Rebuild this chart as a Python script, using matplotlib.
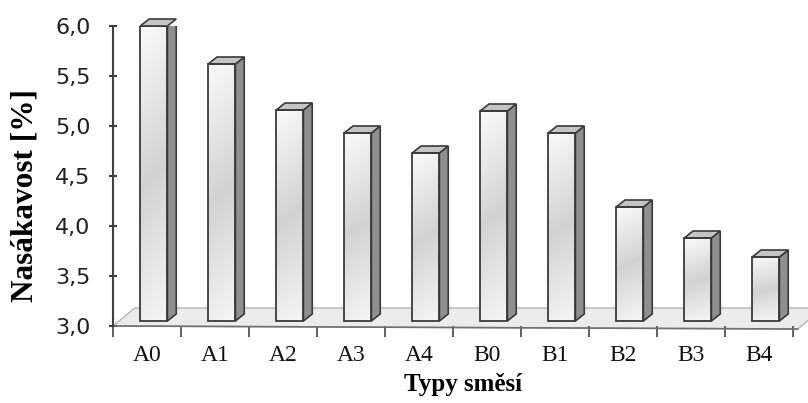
import numpy as np
import matplotlib
matplotlib.use("Agg")
import matplotlib.pyplot as plt
from matplotlib.patches import Polygon
from matplotlib.colors import LinearSegmentedColormap

categories = ["A0", "A1", "A2", "A3", "A4", "B0", "B1", "B2", "B3", "B4"]
values = [6.0, 5.62, 5.16, 4.93, 4.73, 5.15, 4.93, 4.19, 3.88, 3.69]
yticks = [3.0, 3.5, 4.0, 4.5, 5.0, 5.5, 6.0]
ytick_labels = ["3,0", "3,5", "4,0", "4,5", "5,0", "5,5", "6,0"]

W, H = 808, 403
fig = plt.figure(figsize=(W / 100, H / 100), dpi=100)
ax = fig.add_axes([113 / W, (H - 326) / H, 680 / W, 300 / H])
ax.set_xlim(-0.5, len(categories) - 0.5)
ax.set_ylim(3.0, 6.0)

edge = "#3a3a3a"
# 3D offsets (data units)
dx, dy = 0.13, 0.07
floor_dx, floor_dy = 0.32, 0.18
bar_w = 0.40
bar_shift = 0.10
base = 3.05

# floor
n = len(categories)
fl = Polygon([[-0.5, 3.0], [-0.5 + floor_dx, 3.0 + floor_dy],
              [n - 0.5 + floor_dx + 0.12, 3.0 + floor_dy],
              [n - 0.5 + 0.07, 2.97]],
             closed=True, facecolor="#ebebeb", edgecolor="#b5b5b5", lw=1.0,
             clip_on=False, zorder=1)
ax.add_patch(fl)
ax.plot([-0.5, n - 0.5 + 0.07], [3.0, 2.97], color="#707070", lw=1.2,
        clip_on=False, zorder=2)

x = np.arange(n) + bar_shift
bars = ax.bar(x, np.array(values) - base, bottom=base, width=bar_w,
              facecolor="none", edgecolor=edge, lw=1.3, zorder=4)

cmap = LinearSegmentedColormap.from_list(
    "g", ["#fafafa", "#e6e6e6", "#d2d2d2", "#e4e4e4", "#f6f6f6"])
grad = np.linspace(0, 1, 256).reshape(-1, 1)
grad_h = np.linspace(0, 1, 64).reshape(1, -1)
img = 0.9 * grad + 0.1 * grad_h
for b, v in zip(bars, values):
    x0 = b.get_x()
    x1 = x0 + b.get_width()
    im = ax.imshow(img, cmap=cmap, extent=[x0, x1, base, v], aspect="auto",
                   origin="upper", zorder=3, interpolation="bilinear")
    im.set_clip_path(b)
    side = Polygon([[x1, base], [x1 + dx, base + dy], [x1 + dx, v + dy], [x1, v]],
                   closed=True, facecolor="#8f8f8f", edgecolor=edge, lw=1.2,
                   zorder=3.5)
    ax.add_patch(side)
    top = Polygon([[x0, v], [x0 + dx, v + dy], [x1 + dx, v + dy], [x1, v]],
                  closed=True, facecolor="#c4c4c4", edgecolor=edge, lw=1.2,
                  zorder=3.5, clip_on=False)
    ax.add_patch(top)

ax.set_xlim(-0.5, n - 0.5)
ax.set_ylim(3.0, 6.0)

for s in ["top", "right", "bottom"]:
    ax.spines[s].set_visible(False)
ax.spines["left"].set_color("#404040")
ax.spines["left"].set_linewidth(1.5)
ax.spines["left"].set_bounds(3.0, 6.0)

ax.set_yticks(yticks)
ax.set_yticklabels(ytick_labels, fontfamily="DejaVu Sans", fontsize=16,
                   color="#222222")
ax.tick_params(axis="y", direction="inout", length=6, width=1.5,
               color="#404040", pad=13)

ax.set_xticks(np.arange(n))
ax.set_xticklabels(categories, fontfamily="Liberation Serif", fontsize=17,
                   color="#111111")
ax.tick_params(axis="x", which="major", length=0, pad=14)
ax.set_xticks(np.arange(n + 1) - 0.5, minor=True)
ax.tick_params(axis="x", which="minor", direction="out", length=8, width=1.3,
               color="#555555")

fig.text(463 / W, 1 - 385 / H, "Typy směsí", fontfamily="Liberation Serif",
         fontweight="bold", fontsize=18, ha="center", va="center")
fig.text(25 / W, 1 - 196 / H, "Nasákavost [%]", fontfamily="Liberation Serif",
         fontweight="bold", fontsize=22.5, ha="center", va="center", rotation=90)

fig.savefig("out.png", dpi=100)
